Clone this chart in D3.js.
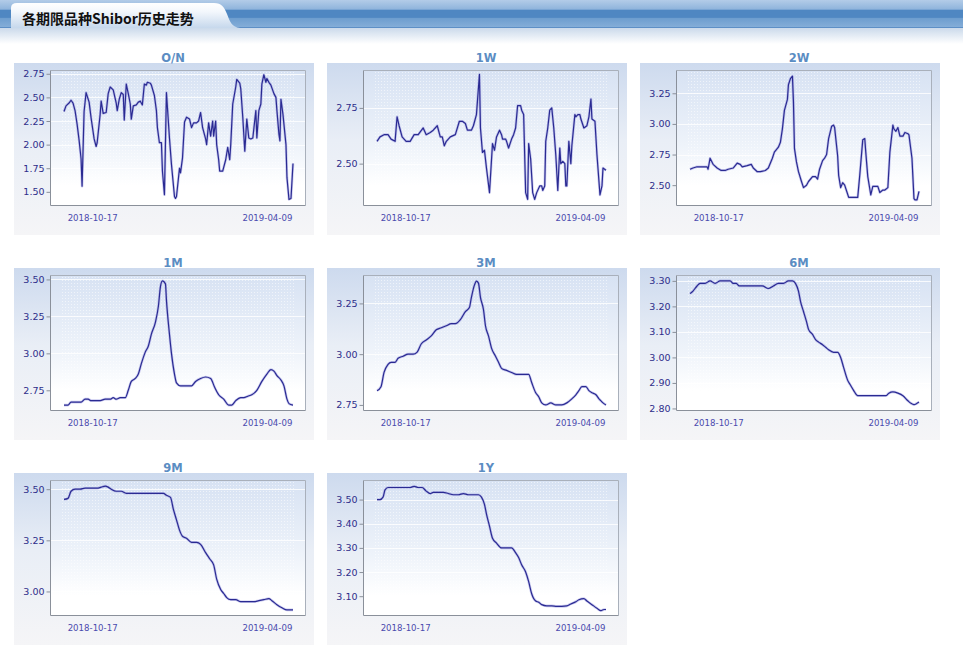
<!DOCTYPE html>
<html>
<head>
<meta charset="utf-8">
<script src="https://cdn.jsdelivr.net/npm/d3@7/dist/d3.min.js"></script>
<style>
  body { margin: 0; background: #fff; }
  svg { display: block; }
</style>
</head>
<body>
<svg id="chart" width="966" height="646"></svg>
<script>
// Shibor history: each series is [days since start, rate %]
const pageTitle = '各期限品种Shibor历史走势';
const startDate = '2018-09-19';
const endDate = '2019-05-05';
const dateLabels = ['2018-10-17', '2019-04-09'];
const tenors = ['O/N', '1W', '2W', '1M', '3M', '6M', '9M', '1Y'];

const onRates = [[0,2.35],[2,2.41],[5,2.44],[7,2.47],[9,2.44],[11,2.36],[13,2.22],[15,2.05],[17,1.85],[18,1.56],[20,2.35],[22,2.55],[25,2.45],[27,2.28],[30,2.06],[32,1.98],[33,2.02],[36,2.32],[37,2.46],[39,2.33],[42,2.34],[44,2.54],[46,2.61],[49,2.58],[52,2.44],[53,2.36],[55,2.48],[57,2.55],[59,2.53],[60,2.26],[62,2.64],[64,2.54],[66,2.43],[67,2.27],[69,2.41],[72,2.42],[74,2.45],[76,2.46],[78,2.42],[80,2.64],[82,2.63],[83,2.66],[86,2.65],[87,2.63],[90,2.52],[92,2.36],[93,2.18],[95,2.02],[97,2.02],[98,1.72],[100,1.47],[102,2.55],[103,2.39],[105,2.07],[107,1.79],[110,1.45],[111,1.43],[112,1.45],[115,1.75],[116,1.70],[118,1.86],[120,2.24],[122,2.29],[125,2.27],[127,2.18],[129,2.23],[132,2.23],[134,2.25],[136,2.34],[138,2.18],[141,2.06],[142,2.00],[144,2.23],[146,2.09],[148,2.25],[149,2.09],[151,2.25],[152,2.00],[154,1.84],[155,1.72],[158,1.72],[161,1.84],[163,1.97],[165,1.84],[166,2.00],[168,2.43],[171,2.61],[172,2.69],[175,2.65],[176,2.59],[178,2.29],[180,1.93],[182,2.27],[184,2.07],[186,2.06],[188,2.07],[191,2.36],[192,2.07],[194,2.36],[196,2.43],[197,2.64],[199,2.74],[201,2.66],[202,2.70],[204,2.66],[206,2.63],[209,2.54],[211,2.50],[212,2.36],[214,2.11],[215,2.04],[216,2.48],[218,2.32],[221,2.00],[222,1.65],[224,1.42],[226,1.43],[228,1.80]];

const w1Rates = [[0,2.60],[3,2.62],[7,2.63],[11,2.63],[14,2.61],[18,2.60],[20,2.71],[22,2.67],[25,2.62],[29,2.60],[33,2.60],[37,2.63],[41,2.63],[46,2.66],[49,2.63],[53,2.64],[56,2.65],[60,2.67],[63,2.62],[65,2.62],[67,2.58],[69,2.60],[73,2.62],[78,2.63],[82,2.69],[85,2.69],[88,2.68],[90,2.65],[94,2.65],[96,2.67],[99,2.72],[102,2.90],[103,2.66],[105,2.55],[107,2.56],[109,2.48],[112,2.37],[115,2.59],[117,2.56],[119,2.62],[122,2.65],[124,2.63],[125,2.61],[128,2.61],[129,2.60],[131,2.57],[134,2.61],[136,2.63],[138,2.66],[140,2.76],[143,2.76],[144,2.74],[146,2.72],[148,2.37],[150,2.34],[151,2.59],[153,2.52],[155,2.37],[157,2.34],[159,2.37],[162,2.40],[164,2.40],[165,2.38],[167,2.40],[168,2.60],[170,2.66],[172,2.74],[174,2.75],[176,2.66],[178,2.54],[180,2.38],[182,2.57],[183,2.50],[185,2.51],[187,2.50],[188,2.40],[189,2.40],[191,2.60],[193,2.50],[194,2.58],[197,2.72],[198,2.71],[200,2.72],[202,2.72],[203,2.70],[206,2.66],[209,2.67],[211,2.71],[213,2.79],[214,2.70],[217,2.69],[219,2.54],[222,2.36],[224,2.40],[225,2.48],[228,2.47]];

const w2Rates = [[0,2.63],[3,2.64],[7,2.65],[12,2.65],[17,2.65],[18,2.63],[20,2.72],[23,2.67],[27,2.64],[31,2.62],[35,2.62],[38,2.63],[43,2.64],[47,2.68],[50,2.67],[52,2.65],[57,2.66],[61,2.67],[63,2.64],[67,2.61],[70,2.61],[75,2.62],[78,2.64],[82,2.72],[84,2.77],[88,2.81],[90,2.85],[92,2.96],[94,3.11],[97,3.20],[98,3.32],[100,3.37],[102,3.39],[103,3.18],[104,2.80],[106,2.69],[108,2.61],[111,2.53],[113,2.48],[116,2.50],[118,2.53],[122,2.57],[125,2.57],[127,2.55],[129,2.63],[132,2.70],[134,2.72],[136,2.75],[138,2.88],[141,2.98],[143,2.99],[144,2.97],[147,2.74],[148,2.58],[150,2.48],[152,2.52],[154,2.50],[156,2.45],[158,2.40],[162,2.40],[165,2.40],[167,2.40],[169,2.58],[172,2.87],[174,2.88],[175,2.77],[177,2.57],[180,2.42],[182,2.49],[185,2.49],[187,2.49],[189,2.44],[192,2.46],[194,2.46],[197,2.48],[199,2.77],[202,2.99],[203,2.96],[205,2.94],[207,2.97],[209,2.90],[212,2.90],[214,2.93],[217,2.92],[218,2.91],[221,2.72],[223,2.39],[224,2.38],[226,2.38],[228,2.45]];

const m1Rates = [[0,2.65],[4,2.65],[7,2.67],[12,2.67],[17,2.67],[21,2.69],[24,2.69],[27,2.68],[32,2.68],[36,2.68],[41,2.69],[46,2.69],[49,2.70],[52,2.69],[56,2.70],[61,2.70],[64,2.75],[67,2.81],[71,2.83],[74,2.86],[77,2.93],[81,3.01],[84,3.05],[87,3.13],[91,3.21],[94,3.32],[96,3.45],[98,3.49],[101,3.47],[102,3.36],[105,3.13],[107,3.00],[110,2.86],[112,2.80],[116,2.78],[121,2.78],[127,2.78],[131,2.81],[136,2.83],[141,2.84],[146,2.83],[150,2.77],[154,2.72],[159,2.69],[164,2.65],[167,2.65],[171,2.68],[176,2.70],[179,2.70],[183,2.71],[187,2.72],[192,2.75],[197,2.81],[202,2.86],[206,2.89],[209,2.88],[212,2.85],[216,2.82],[219,2.78],[222,2.69],[224,2.66],[228,2.65]];

const m3Rates = [[0,2.82],[4,2.84],[7,2.91],[11,2.95],[14,2.96],[18,2.96],[21,2.98],[26,2.99],[31,3.00],[36,3.00],[40,3.01],[44,3.05],[49,3.07],[54,3.09],[59,3.12],[64,3.13],[69,3.14],[74,3.15],[78,3.15],[83,3.17],[88,3.21],[92,3.23],[94,3.28],[97,3.34],[99,3.36],[101,3.35],[103,3.28],[106,3.22],[108,3.14],[111,3.09],[114,3.03],[118,2.99],[121,2.96],[124,2.93],[129,2.92],[134,2.91],[139,2.90],[146,2.90],[151,2.90],[154,2.86],[158,2.81],[161,2.79],[164,2.76],[168,2.75],[173,2.76],[178,2.75],[184,2.75],[189,2.76],[194,2.78],[198,2.80],[201,2.82],[204,2.84],[208,2.84],[211,2.82],[214,2.81],[218,2.80],[221,2.78],[223,2.77],[225,2.76],[228,2.75]];

const m6Rates = [[0,3.25],[3,3.26],[7,3.28],[10,3.29],[15,3.29],[20,3.30],[25,3.29],[30,3.30],[35,3.30],[40,3.30],[43,3.29],[46,3.29],[49,3.28],[52,3.28],[55,3.28],[58,3.28],[62,3.28],[67,3.28],[72,3.28],[78,3.27],[83,3.28],[88,3.29],[93,3.29],[98,3.30],[102,3.30],[105,3.29],[108,3.26],[110,3.22],[113,3.18],[116,3.14],[118,3.11],[122,3.09],[125,3.07],[128,3.06],[132,3.05],[135,3.04],[138,3.03],[143,3.02],[147,3.02],[150,3.00],[153,2.96],[157,2.91],[160,2.89],[163,2.87],[167,2.85],[170,2.85],[175,2.85],[180,2.85],[185,2.85],[190,2.85],[195,2.85],[198,2.86],[202,2.865],[207,2.86],[212,2.85],[217,2.83],[220,2.82],[223,2.815],[226,2.82],[228,2.825]];

const m9Rates = [[0,3.45],[4,3.455],[7,3.49],[11,3.50],[16,3.50],[21,3.505],[27,3.505],[33,3.505],[37,3.51],[41,3.515],[44,3.51],[47,3.50],[52,3.49],[57,3.49],[62,3.48],[69,3.48],[76,3.48],[81,3.48],[86,3.48],[92,3.48],[99,3.48],[102,3.47],[106,3.46],[109,3.40],[112,3.35],[115,3.30],[118,3.27],[122,3.26],[127,3.24],[132,3.24],[136,3.23],[141,3.19],[145,3.16],[149,3.13],[152,3.06],[156,3.01],[159,2.99],[162,2.97],[166,2.96],[171,2.96],[176,2.95],[182,2.95],[189,2.95],[194,2.955],[199,2.96],[204,2.965],[207,2.955],[212,2.935],[217,2.92],[222,2.91],[228,2.91]];

const y1Rates = [[0,3.50],[3,3.50],[6,3.51],[8,3.54],[11,3.55],[16,3.55],[23,3.55],[29,3.55],[33,3.55],[37,3.555],[41,3.55],[45,3.55],[49,3.535],[53,3.525],[56,3.53],[61,3.53],[66,3.53],[71,3.525],[76,3.52],[81,3.52],[86,3.525],[91,3.52],[96,3.52],[101,3.52],[104,3.51],[107,3.48],[109,3.44],[112,3.39],[115,3.34],[119,3.32],[124,3.30],[129,3.30],[134,3.30],[138,3.28],[141,3.26],[144,3.23],[148,3.20],[151,3.16],[154,3.11],[158,3.08],[161,3.075],[164,3.065],[169,3.06],[174,3.06],[179,3.058],[184,3.058],[189,3.06],[193,3.068],[198,3.077],[201,3.085],[206,3.09],[209,3.08],[214,3.065],[219,3.05],[223,3.04],[226,3.045],[228,3.045]];

const seriesList = [onRates, w1Rates, w2Rates, m1Rates, m3Rates, m6Rates, m9Rates, y1Rates];
const yDomains = [[1.35, 2.79], [2.31, 2.92], [2.33, 3.44], [2.61, 3.53], [2.72, 3.39], [2.79, 3.323], [2.88, 3.545], [3.018, 3.581]];
const yTicks = [
  [1.50, 1.75, 2.00, 2.25, 2.50, 2.75],
  [2.50, 2.75],
  [2.50, 2.75, 3.00, 3.25],
  [2.75, 3.00, 3.25, 3.50],
  [2.75, 3.00, 3.25],
  [2.80, 2.90, 3.00, 3.10, 3.20, 3.30],
  [3.00, 3.25, 3.50],
  [3.10, 3.20, 3.30, 3.40, 3.50]
];
const spiky = ['O/N', '1W', '2W'];

const svg = d3.select('#chart');
const defs = svg.append('defs');
const parse = d3.timeParse('%Y-%m-%d');
const t0 = parse(startDate), t1 = parse(endDate);
const fmt = d3.format('.2f');

function vGrad(id, stops) {
  const g = defs.append('linearGradient').attr('id', id)
    .attr('x1', 0).attr('y1', 0).attr('x2', 0).attr('y2', 1);
  stops.forEach(s => g.append('stop').attr('offset', s[0]).attr('stop-color', s[1]));
}
vGrad('barGrad', [[0, '#b3cce8'], [0.33, '#8fb4dc'], [0.36, '#4f87c2'], [0.62, '#4f87c2'], [0.66, '#6e9ecf'], [1, '#86afd9']]);
vGrad('tabGrad', [[0, '#ffffff'], [0.35, '#f3f7fc'], [1, '#c6d8ec']]);
vGrad('fadeGrad', [[0, '#cbdaeb'], [1, '#ffffff']]);
vGrad('panelGrad', [[0, '#cddaee'], [0.45, '#e9eef6'], [1, '#f5f5f7']]);
vGrad('plotGrad', [[0, '#d7e2f3'], [0.55, '#eef3fa'], [0.85, '#ffffff'], [1, '#ffffff']]);

const dots = defs.append('pattern').attr('id', 'dots')
  .attr('width', 3).attr('height', 3).attr('patternUnits', 'userSpaceOnUse');
dots.append('rect').attr('width', 1).attr('height', 1).attr('fill', '#ffffff').attr('opacity', 0.55);

// header
const head = svg.append('g');
head.append('rect').attr('x', 0).attr('y', 28).attr('width', 963).attr('height', 16).attr('fill', 'url(#fadeGrad)');
head.append('rect').attr('x', 0).attr('y', 0).attr('width', 963).attr('height', 28).attr('fill', 'url(#barGrad)');
head.append('line').attr('x1', 0).attr('x2', 963).attr('y1', 27.5).attr('y2', 27.5).attr('stroke', '#5d8fc6');
head.append('path')
  .attr('d', 'M11,28 L11,8 Q11,3 17,3 L214,3 C222,3 224,7 227,14 C230,22 232,27 240,28 Z')
  .attr('fill', 'url(#tabGrad)');
head.append('text').attr('x', 22).attr('y', 24)
  .attr('font-family', '"Noto Sans CJK SC", "DejaVu Sans", sans-serif')
  .attr('font-size', 14).attr('font-weight', 'bold').attr('fill', '#111')
  .text(pageTitle);

const panelW = 300, panelH = 172;
const m = { l: 36, r: 8, t: 7, b: 29 };

tenors.forEach((name, i) => {
  const col = i % 3, row = Math.floor(i / 3);
  const px = 14 + col * 313, py = 63 + row * 205;
  const g = svg.append('g').attr('transform', `translate(${px},${py})`);

  g.append('rect').attr('width', panelW).attr('height', panelH).attr('fill', 'url(#panelGrad)');

  g.append('text').attr('x', 159).attr('y', -1).attr('text-anchor', 'middle')
    .attr('font-family', '"DejaVu Sans", sans-serif').attr('font-size', 11.5)
    .attr('font-weight', 'bold').attr('fill', '#5b8dc3').text(name);

  const left = m.l, right = panelW - m.r, top = m.t, bottom = panelH - m.b;
  const x = d3.scaleTime().domain([t0, t1]).range([left + 14, right - 13]);
  const y = d3.scaleLinear().domain(yDomains[i]).range([bottom, top]);

  g.append('rect').attr('x', left).attr('y', top).attr('width', right - left).attr('height', bottom - top)
    .attr('fill', 'url(#plotGrad)');
  g.append('rect').attr('x', left + 12).attr('y', top + 2).attr('width', right - left - 22).attr('height', bottom - top - 4)
    .attr('fill', 'url(#dots)');

  g.append('g').selectAll('line').data(yTicks[i]).join('line')
    .attr('x1', left).attr('x2', right)
    .attr('y1', d => Math.round(y(d)) + 0.5).attr('y2', d => Math.round(y(d)) + 0.5)
    .attr('stroke', '#ffffff').attr('stroke-opacity', 0.8);

  // frame
  g.append('path').attr('d', `M${left + 0.5},${top + 0.5}H${right - 0.5}V${bottom - 0.5}`)
    .attr('fill', 'none').attr('stroke', '#a9b0bb');
  g.append('path').attr('d', `M${left + 0.5},${top + 0.5}V${bottom - 0.5}H${right - 0.5}`)
    .attr('fill', 'none').attr('stroke', '#8a909a');

  const yAxis = g.append('g').attr('transform', `translate(${left + 0.5},0)`)
    .call(d3.axisLeft(y).tickValues(yTicks[i]).tickFormat(fmt).tickSize(4).tickPadding(2));
  yAxis.select('.domain').remove();
  yAxis.selectAll('.tick line').attr('stroke', '#8a909a');
  yAxis.selectAll('.tick text').attr('fill', '#2d2d8a')
    .attr('font-family', '"DejaVu Sans", sans-serif').attr('font-size', 9.5);

  const xAxis = g.append('g').attr('transform', `translate(0,${bottom})`)
    .call(d3.axisBottom(x).tickValues(dateLabels.map(parse)).tickFormat(d3.timeFormat('%Y-%m-%d')).tickSize(0).tickPadding(9));
  xAxis.select('.domain').remove();
  xAxis.selectAll('.tick text').attr('fill', '#4a4aae')
    .attr('font-family', '"DejaVu Sans", sans-serif').attr('font-size', 8.6);

  const line = d3.line()
    .x(d => x(d3.timeDay.offset(t0, d[0])))
    .y(d => y(d[1]))
    .curve(spiky.includes(name) ? d3.curveLinear : d3.curveMonotoneX);

  g.append('path').datum(seriesList[i]).attr('d', line)
    .attr('fill', 'none').attr('stroke', '#8c8cdc').attr('stroke-width', 2.6).attr('stroke-opacity', 0.45)
    .attr('stroke-linejoin', 'round');
  g.append('path').datum(seriesList[i]).attr('d', line)
    .attr('fill', 'none').attr('stroke', '#2a2a92').attr('stroke-width', 1.2)
    .attr('stroke-linejoin', 'round');
});
</script>
</body>
</html>
